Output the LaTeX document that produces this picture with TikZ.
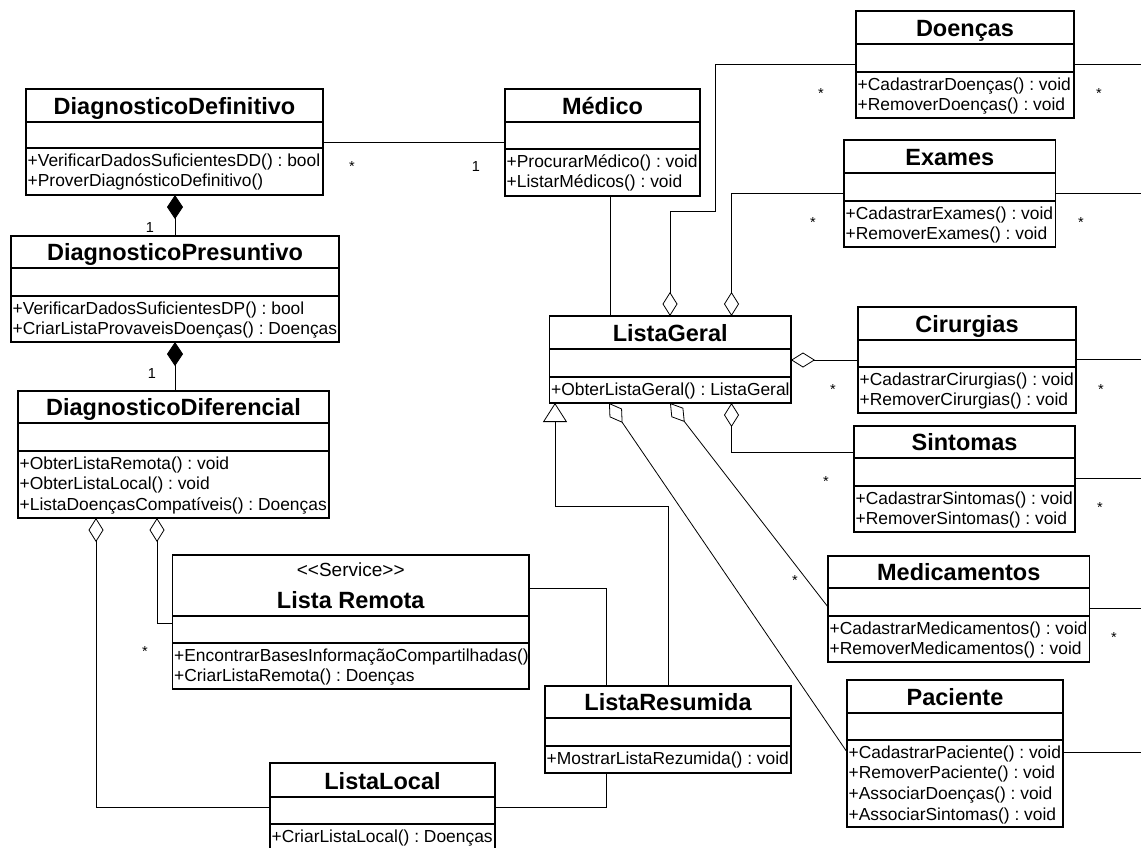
\documentclass[tikz,border=0pt]{standalone}
\usepackage{fontspec}
\setmainfont{Liberation Sans}
\usetikzlibrary{arrows.meta}
\frenchspacing

\tikzset{
    classbox/.style = {draw, line width = 1.2pt, anchor = north west, inner sep = 0pt, outer sep = 0pt},
    classline/.style = {line width = 1.2pt},
    classname/.style = {anchor = base, inner sep = 0pt, font = \fontsize{23.5}{28}\selectfont\bfseries},
    classops/.style = {anchor = north west, inner xsep = 1.5pt, inner ysep = 0pt, align = left, font = \fontsize{17.4}{20.7}\selectfont},
    mult/.style = {anchor = base, inner sep = 0pt, font = \fontsize{14.5}{16}\selectfont},
    assoc/.style = {line width = 0.8pt},
    aggr/.style = {line width = 0.8pt, -{Diamond[open, length = 24pt, width = 15pt]}},
    comp/.style = {line width = 0.8pt, -{Diamond[length = 24pt, width = 16pt]}},
    gen/.style = {line width = 0.8pt, -{Triangle[open, length = 19pt, width = 24pt]}}
}

% name, x, y, width, name row, attribute row, height, title, operations
\newcommand{\umlclass}[9]{%
    \node[classbox, minimum width = #4pt, minimum height = #7pt] (#1) at (#2,#3) {};
    \node[classname] (#1-n) at ({#2+#4/2},{#3+#5-8}) {#8};
    \draw[classline] ([yshift = -#5pt]#1.north west) -- ([yshift = -#5pt]#1.north east);
    \draw[classline] ([yshift = -#5pt-#6pt]#1.north west) -- ([yshift = -#5pt-#6pt]#1.north east);
    \node[classops] (#1-o) at ([yshift = -#5pt-#6pt]#1.north west) {\rule{0pt}{18pt}#9};
}

\begin{document}
\begin{tikzpicture}[x = 1pt, y = -1pt]
    \clip[use as bounding box] (0,0) rectangle (1141,847);

    \umlclass{def}{26}{89}{297}{33}{26}{106}{DiagnosticoDefinitivo}{+VerificarDadosSuficientesDD() : bool\\+ProverDiagnósticoDefinitivo()}
    \umlclass{pres}{11}{236}{328}{32}{28}{106}{DiagnosticoPresuntivo}{+VerificarDadosSuficientesDP() : bool\\+CriarListaProvaveisDoenças() : Doenças}
    \umlclass{dif}{18}{391}{311}{32}{28}{127}{DiagnosticoDiferencial}{+ObterListaRemota() : void\\+ObterListaLocal() : void\\+ListaDoençasCompatíveis() : Doenças}
    \umlclass{med}{505}{89}{195}{33}{27}{107}{Médico}{+ProcurarMédico() : void\\+ListarMédicos() : void}
    \umlclass{doe}{856}{11}{218}{33}{28}{107}{Doenças}{+CadastrarDoenças() : void\\+RemoverDoenças() : void}
    \umlclass{exa}{844}{140}{211.5}{33}{28}{107}{Exames}{+CadastrarExames() : void\\+RemoverExames() : void}
    \umlclass{lg}{549.5}{316}{241.5}{33}{28}{87}{ListaGeral}{+ObterListaGeral() : ListaGeral}
    \umlclass{cir}{858}{307}{218}{33}{27}{106}{Cirurgias}{+CadastrarCirurgias() : void\\+RemoverCirurgias() : void}
    \umlclass{sin}{854}{426}{221}{32}{28}{106}{Sintomas}{+CadastrarSintomas() : void\\+RemoverSintomas() : void}
    \umlclass{medc}{828}{556}{261.5}{32}{28}{106}{Medicamentos}{+CadastrarMedicamentos() : void\\+RemoverMedicamentos() : void}
    \umlclass{pac}{847}{680}{216}{33}{27}{147}{Paciente}{+CadastrarPaciente() : void\\+RemoverPaciente() : void\\+AssociarDoenças() : void\\+AssociarSintomas() : void}
    \umlclass{rem}{172.5}{555}{356.5}{61}{27}{134}{Lista Remota}{+EncontrarBasesInformaçãoCompartilhadas()\\+CriarListaRemota() : Doenças}
    \node[classops, anchor = base, font = \fontsize{19}{22}\selectfont] (rem-s) at (350.75,576) {\mbox{<}\mbox{<}Service\mbox{>}\mbox{>}};
    \umlclass{res}{545}{686}{246}{32}{28}{87}{ListaResumida}{+MostrarListaRezumida() : void}
    \umlclass{loc}{270}{763}{225}{34}{27}{88}{ListaLocal}{+CriarListaLocal() : Doenças}

    \draw[assoc] ([yshift = -53pt]def.north east) -- ([yshift = -53pt]med.north west);
    \draw[comp] ([xshift = 164pt]pres.north west) -- ([xshift = 149pt]def.south west);
    \draw[comp] ([xshift = 157pt]dif.north west) -- ([xshift = 164pt]pres.south west);
    \draw[aggr] ([yshift = -44pt]loc.north west) -| ([xshift = 78pt]dif.south west);
    \draw[aggr] ([yshift = -68pt]rem.north west) -| ([xshift = 139pt]dif.south west);
    \draw[assoc] ([yshift = -33pt]rem.north east) -| ([xshift = 61pt]res.north west);
    \draw[assoc] ([yshift = -44pt]loc.north east) -| ([xshift = 61pt]res.south west);
    \draw[gen] ([xshift = 123pt]res.north west) -- ++(0,-180) -| ([xshift = 5.5pt]lg.south west);
    \draw[assoc] ([xshift = 105pt]med.south west) -- ([xshift = 60.5pt]lg.north west);
    \draw[aggr] ([yshift = -53pt]doe.north west) -| ++(-141,147) -| ([xshift = 120.5pt]lg.north west);
    \draw[aggr] ([yshift = -53pt]exa.north west) -| ([xshift = 182pt]lg.north west);
    \draw[aggr] ([yshift = -53pt]cir.north west) -- ([yshift = -44pt]lg.north east);
    \draw[aggr] ([yshift = -26pt]sin.north west) -| ([xshift = 182pt]lg.south west);
    \draw[aggr] ([yshift = -51pt]medc.north west) -- ([xshift = 120.5pt]lg.south west);
    \draw[aggr] ([yshift = -72pt]pac.north west) -- ([xshift = 59.5pt]lg.south west);

    \coordinate (edge) at (1141,0);
    \draw[assoc] ([yshift = -53pt]doe.north east) coordinate (doe-r) -- (edge |- doe-r);
    \draw[assoc] ([yshift = -53pt]exa.north east) coordinate (exa-r) -- (edge |- exa-r);
    \draw[assoc] ([yshift = -52pt]cir.north east) coordinate (cir-r) -- (edge |- cir-r);
    \draw[assoc] ([yshift = -52pt]sin.north east) coordinate (sin-r) -- (edge |- sin-r);
    \draw[assoc] ([yshift = -52pt]medc.north east) coordinate (medc-r) -- (edge |- medc-r);
    \draw[assoc] ([yshift = -72pt]pac.north east) coordinate (pac-r) -- (edge |- pac-r);

    \node[mult] (def-m) at (352,171) {*};
    \node[mult] (med-m) at (476,171) {1};
    \node[mult] (pres-m) at (150,232) {1};
    \node[mult] (dif-m) at (152,378) {1};
    \node[mult] (rem-m) at (145,656) {*};
    \node[mult] (doe-ml) at (821,98) {*};
    \node[mult] (doe-mr) at (1099,98) {*};
    \node[mult] (exa-ml) at (813,227) {*};
    \node[mult] (exa-mr) at (1081,227) {*};
    \node[mult] (cir-ml) at (833,394) {*};
    \node[mult] (cir-mr) at (1101,394) {*};
    \node[mult] (sin-ml) at (826,486) {*};
    \node[mult] (sin-mr) at (1100,512) {*};
    \node[mult] (medc-ml) at (795,585) {*};
    \node[mult] (medc-mr) at (1114,642) {*};
\end{tikzpicture}
\end{document}
